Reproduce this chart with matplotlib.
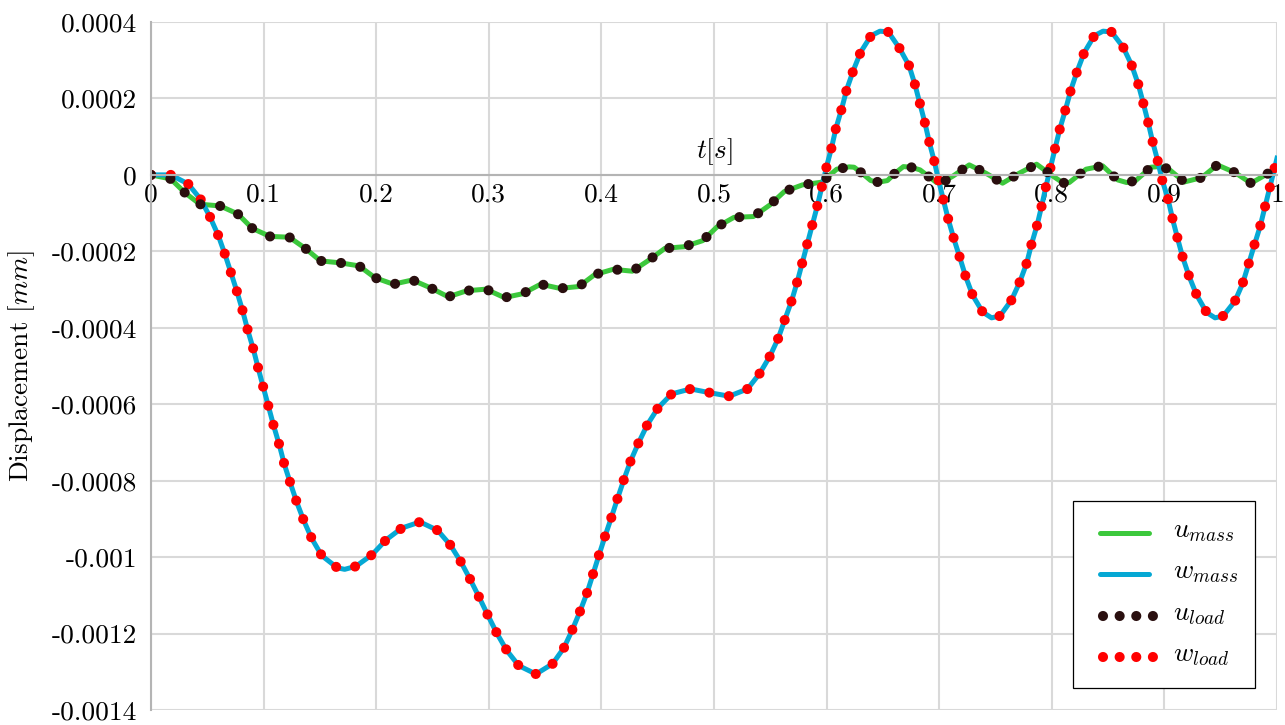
import matplotlib
matplotlib.use("Agg")
import matplotlib.pyplot as plt
from matplotlib.lines import Line2D
from matplotlib.patches import Rectangle

plt.rcParams['font.family'] = ['cmr10', 'DejaVu Serif']
plt.rcParams['mathtext.fontset'] = 'cm'
plt.rcParams['axes.unicode_minus'] = False
plt.rcParams['axes.formatter.use_mathtext'] = True

# ---- data ----
t_w = [0, 0.0175, 0.033, 0.044, 0.0524, 0.0598, 0.0657, 0.071, 0.0764, 0.0814,
       0.0859, 0.0909, 0.0953, 0.0998, 0.1045, 0.109, 0.114, 0.1184, 0.1237, 0.1294,
       0.1356, 0.1427, 0.1516, 0.1655, 0.172, 0.182, 0.1966, 0.2087, 0.2227, 0.2389,
       0.2546, 0.266, 0.2753, 0.2836, 0.2916, 0.2993, 0.3073, 0.3159, 0.3266, 0.3419,
       0.3567, 0.3668, 0.3742, 0.381, 0.3872, 0.3925, 0.3978, 0.4034, 0.409, 0.4144,
       0.42, 0.426, 0.433, 0.4407, 0.4502, 0.4624, 0.4792, 0.4964, 0.5135, 0.5298,
       0.5407, 0.5497, 0.557, 0.563, 0.569, 0.574, 0.5784, 0.583, 0.5876, 0.592,
       0.596, 0.600, 0.6045, 0.6083, 0.6134, 0.6178, 0.6237, 0.6302, 0.6394, 0.6474,
       0.6548, 0.6646, 0.6732, 0.6785, 0.683, 0.6874, 0.6913, 0.6957, 0.6996, 0.7037,
       0.7082, 0.7131, 0.7185, 0.7235, 0.7297, 0.7386, 0.7465, 0.754, 0.7643, 0.7717,
       0.7777, 0.782, 0.787, 0.791, 0.7948, 0.799, 0.8031, 0.8073, 0.8123, 0.817,
       0.8226, 0.8288, 0.8377, 0.8455, 0.8531, 0.8634, 0.8708, 0.8767, 0.8812, 0.8856,
       0.8895, 0.894, 0.898, 0.9034, 0.9073, 0.9117, 0.9162, 0.922, 0.9286, 0.9375,
       0.945, 0.9523, 0.9627, 0.9695, 0.9745, 0.9796, 0.985, 0.9894, 0.9938, 0.9982,
       1.0]
w_vals = [0, 0.0, -0.0000236, -0.0000636, -0.00011, -0.000159, -0.000208, -0.000256, -0.000306, -0.000356,
          -0.000406, -0.000456, -0.000507, -0.000556, -0.000607, -0.000657, -0.000707, -0.000757, -0.000806, -0.000856,
          -0.000904, -0.000951, -0.000996, -0.001028, -0.001032, -0.001024, -0.000993, -0.000955, -0.000924, -0.000908,
          -0.00093, -0.000969, -0.001013, -0.001059, -0.001106, -0.001153, -0.0012, -0.001244, -0.001284, -0.001306,
          -0.001279, -0.001237, -0.00119, -0.001142, -0.001094, -0.001045, -0.000995, -0.000944, -0.000895, -0.000846,
          -0.000797, -0.000748, -0.000701, -0.000654, -0.00061, -0.000573, -0.00056, -0.00057, -0.000579, -0.00056,
          -0.000519, -0.000474, -0.000428, -0.000378, -0.000329, -0.000279, -0.00023, -0.000179, -0.000128, -0.0000785,
          -0.0000288, 0.0000217, 0.0000725, 0.000122, 0.000173, 0.000223, 0.000273, 0.000321, 0.000364, 0.000376,
          0.000374, 0.000332, 0.000286, 0.000236, 0.000185, 0.000135, 0.0000846, 0.0000348, -0.0000157, -0.0000654,
          -0.000118, -0.000168, -0.000218, -0.000266, -0.000315, -0.000359, -0.000374, -0.000369, -0.000327, -0.000279,
          -0.000231, -0.000181, -0.000131, -0.0000812, -0.0000306, 0.0000217, 0.0000715, 0.000122, 0.000172, 0.000223,
          0.000272, 0.00032, 0.000364, 0.000376, 0.000374, 0.000334, 0.000288, 0.000238, 0.000188, 0.000137,
          0.0000872, 0.0000374, -0.0000131, -0.0000654, -0.000116, -0.000166, -0.000215, -0.000266, -0.000314, -0.00036,
          -0.000374, -0.000369, -0.00033, -0.000284, -0.000236, -0.000186, -0.000135, -0.000083, -0.0000306, 0.0000217,
          0.0000437]

t_u = [0, 0.0175, 0.030, 0.0435, 0.0613, 0.077, 0.09, 0.1057, 0.1228, 0.1374,
       0.1504, 0.1678, 0.1847, 0.1989, 0.2152, 0.2321, 0.2478, 0.264, 0.2806, 0.2975,
       0.3138, 0.33, 0.346, 0.3632, 0.38, 0.394, 0.4105, 0.4274, 0.4422, 0.4565,
       0.4733, 0.49, 0.5027, 0.5178, 0.535, 0.5497, 0.5624, 0.5785, 0.5955, 0.609,
       0.620, 0.6244, 0.632, 0.6392, 0.646, 0.654, 0.661, 0.6682, 0.675, 0.683,
       0.6977, 0.702, 0.7125, 0.7267, 0.7415, 0.7563, 0.7711, 0.7865, 0.8007, 0.81,
       0.8155, 0.8304, 0.8452, 0.8585, 0.8665, 0.8745, 0.8881, 0.8962, 0.904, 0.9177,
       0.9331, 0.947, 0.9627, 0.9769, 0.9914, 1.0]
u_vals = [0, -0.0000105, -0.0000463, -0.0000768, -0.0000812, -0.000102, -0.00014, -0.000161, -0.000163, -0.000193,
          -0.000225, -0.00023, -0.000238, -0.000269, -0.000286, -0.000275, -0.000295, -0.000319, -0.000303, -0.000299,
          -0.000321, -0.000311, -0.000286, -0.000297, -0.000292, -0.000261, -0.000247, -0.000252, -0.000223, -0.000192,
          -0.000188, -0.000172, -0.000136, -0.000111, -0.000109, -0.0000785, -0.0000437, -0.0000262, -0.0000191, 0.0000149,
          0.000021, 0.0000201, 0.000003, -0.0000149, -0.000019, -0.0000149, 0.000005, 0.0000217, 0.00002, 0.0000131,
          -0.0000201, -0.000021, -0.0000026, 0.0000262, 0.0000044, -0.0000217, 0.0000044, 0.000028, -0.0000026, -0.000021,
          -0.0000201, 0.0000149, 0.0000236, -0.0000131, -0.00002, -0.0000149, 0.0000201, 0.000022, 0.0000149, -0.0000185,
          -0.0000071, 0.0000262, 0.000006, -0.0000217, 0.0000026, 0.000018]

x_ticks = [0, 0.1, 0.2, 0.3, 0.4, 0.5, 0.6, 0.7, 0.8, 0.9, 1.0]
x_labels = ['0', '0.1', '0.2', '0.3', '0.4', '0.5', '0.6', '0.7', '0.8', '0.9', '1']
y_ticks = [0.0004, 0.0002, 0, -0.0002, -0.0004, -0.0006, -0.0008, -0.001, -0.0012, -0.0014]
y_labels = ['0.0004', '0.0002', '0', '-0.0002', '-0.0004', '-0.0006', '-0.0008', '-0.001', '-0.0012', '-0.0014']

series_labels = [r'$u_{mass}$', r'$w_{mass}$', r'$u_{load}$', r'$w_{load}$']

# ---- styles ----
c_green = '#3cc83c'
c_blue = '#05a8d4'
c_dark = '#2a0f0f'
c_red = '#ff0000'
grid_c = '#d9d9d9'
axis_c = '#b4b4b4'
fs = 19.7

W, H = 1285, 725
fig = plt.figure(figsize=(W / 100, H / 100), dpi=100)
ax = fig.add_axes([151 / W, 1 - 710 / H, 1126 / W, 688 / H])
ax.set_axisbelow(True)

lw_line = 3.6
lw_dot = 7.3
dot_style = (0, (0.001, 1.95))

ax.plot(t_u, u_vals, color=c_green, lw=lw_line, solid_joinstyle='round', zorder=2)
ax.plot(t_w, w_vals, color=c_blue, lw=lw_line, solid_joinstyle='round', zorder=2.1)
ax.plot(t_w, w_vals, color=c_red, lw=lw_dot, linestyle=dot_style,
        dash_capstyle='round', zorder=2.2)
ax.plot(t_u, u_vals, color=c_dark, lw=lw_dot, linestyle=dot_style,
        dash_capstyle='round', zorder=2.3)

ax.set_xlim(0, 1)
ax.set_ylim(-0.0014, 0.0004)
ax.set_xticks(x_ticks)
ax.set_xticklabels(x_labels)
ax.set_yticks(y_ticks)
ax.set_yticklabels(y_labels)
ax.tick_params(axis='both', length=0, labelsize=fs, colors='black')
ax.tick_params(axis='x', pad=6)
ax.tick_params(axis='y', pad=10)

ax.grid(True, color=grid_c, lw=1.5)
ax.spines['top'].set_visible(False)
ax.spines['right'].set_visible(False)
ax.spines['bottom'].set_position(('data', 0))
ax.spines['bottom'].set_color(axis_c)
ax.spines['left'].set_color(axis_c)
ax.spines['bottom'].set_linewidth(1.5)
ax.spines['left'].set_linewidth(1.5)

ax.text(0.5, 0.00006, r'$t[s]$', fontsize=fs, ha='center', va='center')
fig.text(22 / W, 1 - 366 / H, r'Displacement $[mm]$', rotation=90,
         fontsize=fs, ha='center', va='center')

# ---- legend (box + entries placed in figure pixels) ----
def fx(px):
    return px / W


def fy(py):
    return 1 - py / H


fig.add_artist(Rectangle((fx(1073), fy(688)), fx(1255) - fx(1073), fy(501) - fy(688),
                         transform=fig.transFigure, facecolor='white',
                         edgecolor='black', lw=0.9, zorder=5))
row_y = [533, 574, 616, 657]
entry_styles = [
    dict(color=c_green, lw=lw_line, solid_capstyle='round', x0=1100, x1=1149),
    dict(color=c_blue, lw=lw_line, solid_capstyle='round', x0=1100, x1=1149),
    dict(color=c_dark, lw=lw_dot, linestyle=(0, (0.001, 1.64)), dash_capstyle='round', x0=1103, x1=1155),
    dict(color=c_red, lw=lw_dot, linestyle=(0, (0.001, 1.64)), dash_capstyle='round', x0=1103, x1=1155),
]
for y, st, lab in zip(row_y, entry_styles, series_labels):
    st = dict(st)
    x0 = st.pop('x0')
    x1 = st.pop('x1')
    fig.add_artist(Line2D([fx(x0), fx(x1)], [fy(y), fy(y)], transform=fig.transFigure,
                          zorder=6, **st))
    fig.text(fx(1173), fy(y + 4.5), lab, fontsize=fs, ha='left', va='baseline', zorder=6)

fig.savefig('out.png', dpi=100)
